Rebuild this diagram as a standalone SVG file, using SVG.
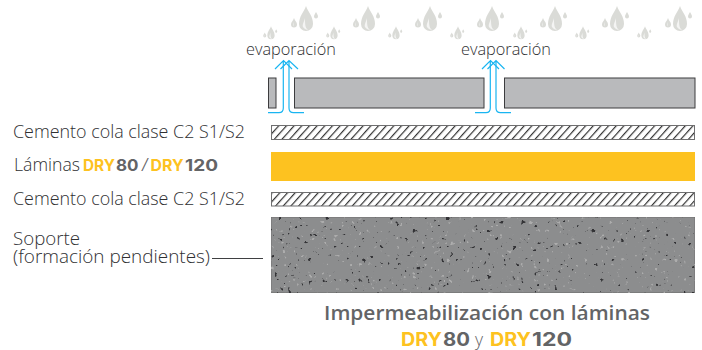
<svg xmlns="http://www.w3.org/2000/svg" xmlns:xlink="http://www.w3.org/1999/xlink" width="702" height="350" viewBox="0 0 702 350">
<style>
text{font-family:"Open Sans","Lato","Liberation Sans",sans-serif;font-weight:300;fill:#2f3032}
.l{font-size:17.500px}
.e{font-size:16.500px}
.t{font-size:19.500px;font-weight:600;fill:#636466}
.d{font-family:"Inter","Liberation Sans",sans-serif;font-weight:700;font-size:15.500px;fill:#fdc220}
.n{font-family:"Inter","Liberation Sans",sans-serif;font-weight:700;font-size:15.500px;fill:#636466}
.big{font-size:18.500px}
.bar{fill:#b9babc;stroke:#3c3c3e;stroke-width:1}
.hatch{fill:url(#h);stroke:#6f6f70;stroke-width:1}
.blue{fill:none;stroke:#19b5f1;stroke-width:1.2}
.drop{fill:#dadbd7}
.drophl{fill:#fff;fill-opacity:.7}
</style>
<defs>
<pattern id="h" width="5.700" height="5.700" patternUnits="userSpaceOnUse" patternTransform="translate(271 125) rotate(42)">
<rect width="5.700" height="5.700" fill="#fff"/>
<rect width="1.200" height="5.700" fill="#333"/>
</pattern>
<filter id="soft" x="-10%" y="-10%" width="120%" height="120%"><feGaussianBlur stdDeviation="0.35"/></filter>
<filter id="speck" x="0" y="0" width="100%" height="100%" color-interpolation-filters="sRGB">
<feTurbulence type="fractalNoise" baseFrequency="0.24" numOctaves="2" seed="7" result="n"/>
<feColorMatrix in="n" type="matrix" values="0 0 0 0 0.2  0 0 0 0 0.2  0 0 0 0 0.21  8 -8 0 0 -2.45" result="dark"/>
<feColorMatrix in="n" type="matrix" values="0 0 0 0 0.68  0 0 0 0 0.68  0 0 0 0 0.68  -6 6 0 0 -1.7" result="light"/>
<feGaussianBlur in="dark" stdDeviation="0.4" result="d2"/>
<feGaussianBlur in="light" stdDeviation="0.6" result="l2"/>
<feMerge><feMergeNode in="SourceGraphic"/><feMergeNode in="l2"/><feMergeNode in="d2"/></feMerge>
</filter>
<symbol id="big" overflow="visible">
<path class="drop" d="M0-13C2-7 7-3 7 5A7 7 0 0 1-7 5C-7-3-2-7 0-13Z"/>
<path class="drophl" d="M-1-1C-2 3-4 6-3 8C-2 10 1 11 2 11C-1 9-1 4-1-1Z"/>
<path class="drop" d="M-12-1C-11 2-9 3-9 5.500A3 3 0 0 1-15 5.500C-15 3-13 2-12-1Z"/>
<path class="drophl" d="M-12.500 3C-13 5-13.500 6-12 7.500C-12.500 6-12.500 5-12.500 3Z"/>
<path class="drop" d="M10-7C11-5 12-4 12-2.500A2 2 0 0 1 8-2.500C8-4 9-5 10-7Z"/>
</symbol>
<symbol id="small" overflow="visible"><use xlink:href="#big" transform="scale(.52)"/></symbol>
</defs>

<g id="drops" filter="url(#soft)">
<use href="#small" x="334" y="33"/><use href="#big" x="306" y="19"/>
<use href="#small" x="271" y="33"/>
<use href="#big" x="368" y="19"/><use href="#small" x="396" y="33"/>
<use href="#big" x="430" y="19"/><use href="#small" x="458" y="33"/>
<use href="#big" x="492" y="19"/><use href="#small" x="521" y="33"/>
<use href="#big" x="555" y="19"/><use href="#small" x="583" y="33"/>
<use href="#big" x="617" y="19"/><use href="#small" x="645" y="33"/>
<use href="#big" x="680" y="19"/>
</g>

<g id="top-layer">
<rect class="bar" x="268.500" y="78" width="7.500" height="30"/>
<rect class="bar" x="294.500" y="78" width="189.500" height="30"/>
<rect class="bar" x="504.500" y="78" width="190.500" height="30"/>
</g>

<g id="connectors">
<path class="blue" d="M268 112.700H279Q283.300 112.700 283.300 108V60.500M275 69L283.500 60.500L292 69"/>
<path class="blue" d="M304 112.700H293.500Q289 112.700 289 108V60.500M280.500 69L289 60.500L298 69"/>
<path class="blue" d="M475 112.700H486Q490.300 112.700 490.300 108V60.500M482 69L490.500 60.500L499 69"/>
<path class="blue" d="M511 112.700H500.500Q496 112.700 496 108V60.500M487.500 69L496 60.500L504.500 69"/>
<path d="M212 258.500H263" fill="none" stroke="#3f4042" stroke-width="1"/>
</g>

<g id="evap-labels">
<text class="e" x="246" y="55" textLength="90" lengthAdjust="spacingAndGlyphs">evaporación</text>
<text class="e" x="461" y="55" textLength="90" lengthAdjust="spacingAndGlyphs">evaporación</text>
</g>

<g id="cemento-1">
<rect class="hatch" x="271.500" y="125.500" width="423" height="14"/>
<text class="l" x="13" y="138" textLength="232" lengthAdjust="spacingAndGlyphs">Cemento cola clase C2 S1/S2</text>
</g>
<g id="laminas">
<rect x="271" y="152" width="424" height="29" fill="#fdc220"/>
<text class="l" x="14" y="171" textLength="66" lengthAdjust="spacingAndGlyphs">Láminas</text>
<text class="d" x="83" y="171" textLength="32" lengthAdjust="spacingAndGlyphs">DRY</text>
<text class="n" x="116" y="171" textLength="22.500" lengthAdjust="spacingAndGlyphs">80</text>
<text class="l" x="141" y="171" textLength="8" lengthAdjust="spacingAndGlyphs" style="fill:#636466">/</text>
<text class="d" x="150.500" y="171" textLength="33" lengthAdjust="spacingAndGlyphs">DRY</text>
<text class="n" x="185" y="171" textLength="33" lengthAdjust="spacingAndGlyphs">120</text>
</g>
<g id="cemento-2">
<rect class="hatch" x="271.500" y="192.500" width="423" height="13.500"/>
<text class="l" x="13" y="205" textLength="232" lengthAdjust="spacingAndGlyphs">Cemento cola clase C2 S1/S2</text>
</g>
<g id="soporte">
<rect x="271" y="217" width="424" height="75.500" fill="#8c8d8e" stroke="#6a6a6a" stroke-width="0.800" filter="url(#speck)"/>
<text class="l"><tspan x="13" y="244.500" textLength="67" lengthAdjust="spacingAndGlyphs">Soporte</tspan><tspan x="13" y="263" textLength="197" lengthAdjust="spacingAndGlyphs">(formación pendientes)</tspan></text>
</g>

<g id="title">
<text class="t" x="324" y="320" textLength="326" lengthAdjust="spacingAndGlyphs">Impermeabilización con láminas</text>
<text class="d big" x="401" y="346" textLength="41" lengthAdjust="spacingAndGlyphs">DRY</text>
<text class="n big" x="443" y="346" textLength="27" lengthAdjust="spacingAndGlyphs">80</text>
<text class="l" x="475" y="346" style="fill:#636466">y</text>
<text class="d big" x="490" y="346" textLength="41" lengthAdjust="spacingAndGlyphs">DRY</text>
<text class="n big" x="532" y="346" textLength="40" lengthAdjust="spacingAndGlyphs">120</text>
</g>
</svg>
